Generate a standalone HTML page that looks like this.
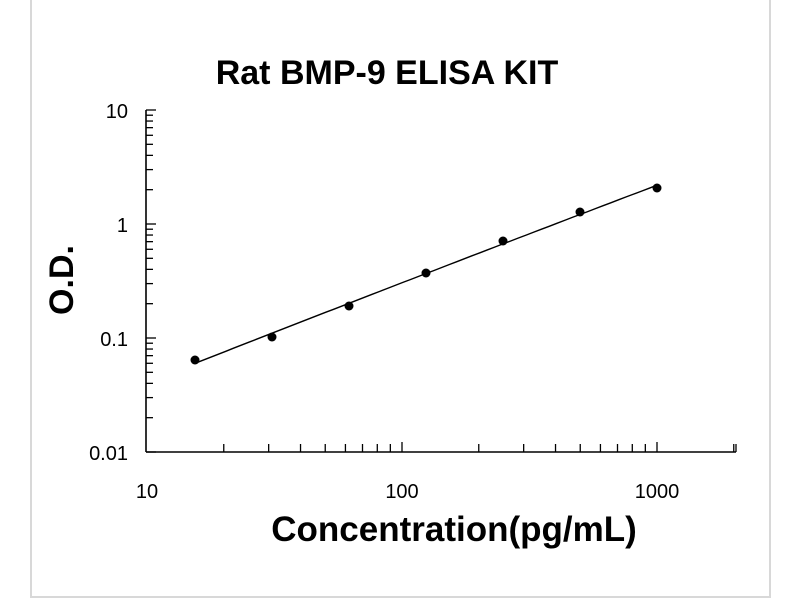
<!DOCTYPE html>
<html><head><style>body{margin:0;background:#fff}svg{display:block}</style></head><body>
<svg width="800" height="600" xmlns="http://www.w3.org/2000/svg" font-family="Liberation Sans, sans-serif">
<rect x="0" y="0" width="800" height="600" fill="#fff"/>
<rect x="31" y="-2" width="739" height="599" fill="none" stroke="#d8d8d8" stroke-width="2"/>
<text x="387" y="84" font-size="34" font-weight="bold" text-anchor="middle">Rat BMP-9 ELISA KIT</text>
<g stroke="#000" stroke-width="1.6" fill="none">
<line x1="146" y1="110" x2="146" y2="452"/>
<line x1="146" y1="452" x2="736" y2="452"/>
</g>
<g stroke="#000" stroke-width="1.3" id="ticks"></g>
<g font-size="20" text-anchor="end">
<text x="128" y="118">10</text><text x="128" y="232">1</text><text x="128" y="346">0.1</text><text x="128" y="460">0.01</text>
</g>
<g font-size="20" text-anchor="middle">
<text x="147" y="498">10</text><text x="402" y="498">100</text><text x="657" y="498">1000</text>
</g>
<text x="454" y="541" font-size="35" font-weight="bold" text-anchor="middle">Concentration(pg/mL)</text>
<text transform="translate(73,280) rotate(-90)" font-size="34" font-weight="bold" text-anchor="middle">O.D.</text>
<path d="" fill="none" stroke="#000" stroke-width="1.4" id="curve"/>
<g fill="#000" id="pts"></g>
<script>
var ns="http://www.w3.org/2000/svg",t=document.getElementById("ticks");
function L(a,b,c,d){var l=document.createElementNS(ns,"line");l.setAttribute("x1",a);l.setAttribute("y1",b);l.setAttribute("x2",c);l.setAttribute("y2",d);t.appendChild(l);}
for(var d=0;d<3;d++)for(var k=1;k<=10;k++){var y=452-114*d-114*Math.log10(k);var len=(k==1||k==10)?10:7;if(d>0&&k==1)continue;L(146,y,146+len,y);}
for(var d=0;d<3;d++)for(var k=2;k<=10;k++){var x=147+255*d+255*Math.log10(k);if(x>737)break;L(x,452,x,452-(k==10?10:8));}
L(736,452,736,444);
var P=[[195,360],[272,337],[349,306],[426,273],[503,241],[580,212],[657,188]],p=document.getElementById("pts");
for(var i=0;i<7;i++){var c=document.createElementNS(ns,"circle");c.setAttribute("cx",P[i][0]);c.setAttribute("cy",P[i][1]);c.setAttribute("r",4.5);p.appendChild(c);}
// quadratic least squares y = a + b u + c u^2, u=(x-426)/100
var S=[[0,0,0],[0,0,0],[0,0,0]],R=[0,0,0];
P.forEach(function(q){var u=(q[0]-426)/100,v=[1,u,u*u];for(var i=0;i<3;i++){R[i]+=v[i]*q[1];for(var j=0;j<3;j++)S[i][j]+=v[i]*v[j];}});
function solve(A,b){A=A.map(function(r,i){return r.concat([b[i]]);});for(var i=0;i<3;i++){for(var k=i+1;k<3;k++){var f=A[k][i]/A[i][i];for(var j=i;j<4;j++)A[k][j]-=f*A[i][j];}}var x=[0,0,0];for(var i=2;i>=0;i--){var s=A[i][3];for(var j=i+1;j<3;j++)s-=A[i][j]*x[j];x[i]=s/A[i][i];}return x;}
var co=solve(S,R),d="";
for(var i=0;i<=60;i++){var X=195+(657-195)*i/60,u=(X-426)/100,Y=co[0]+co[1]*u+co[2]*u*u;d+=(i?"L":"M")+X.toFixed(1)+","+Y.toFixed(1);}
document.getElementById("curve").setAttribute("d",d);
</script>
</svg>
</body></html>
